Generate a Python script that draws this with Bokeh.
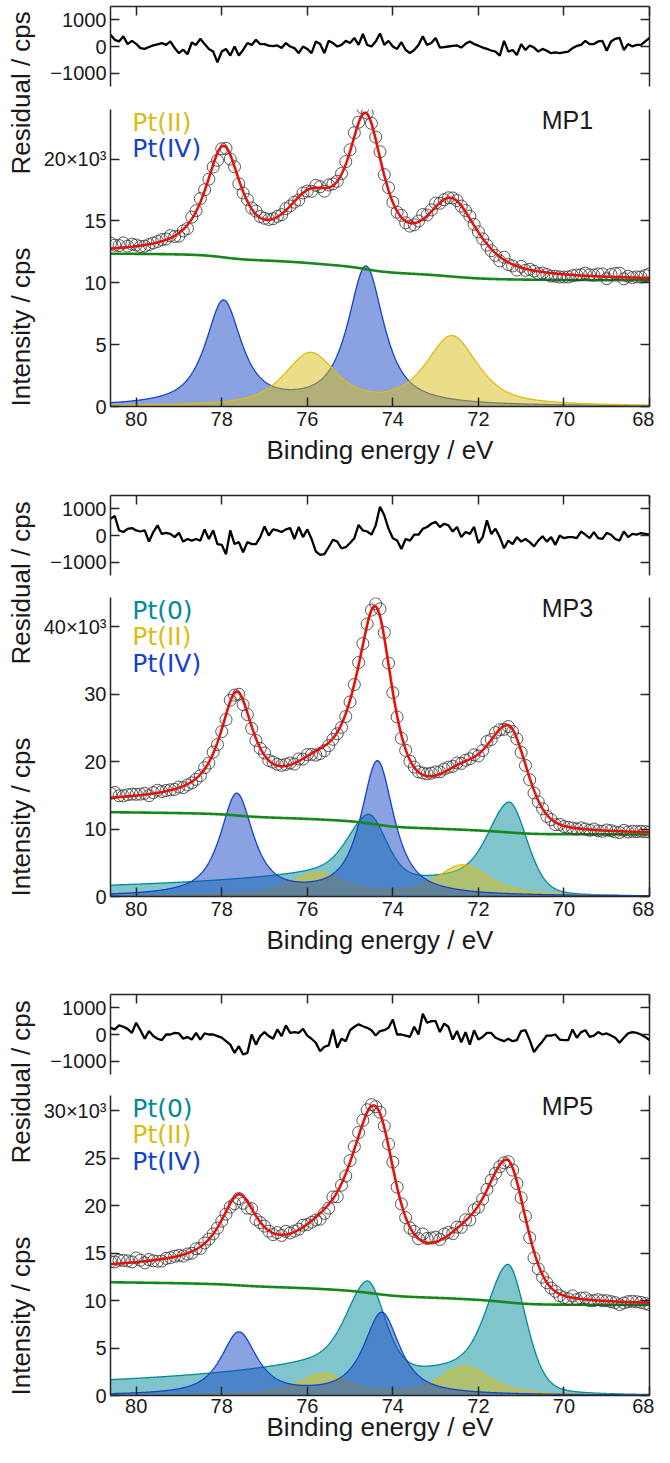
import numpy as np
from bokeh.plotting import figure
from bokeh.layouts import column, row
from bokeh.models import Range1d, FixedTicker, LinearAxis, Label
from bokeh.embed import file_html
from bokeh.resources import INLINE

# ---------------- data ----------------
ENERGY_HIGH, ENERGY_LOW, ENERGY_STEP, N_POINTS = 80.6, 68.0, 0.1, 127
X_TICKS = [80, 78, 76, 74, 72, 70, 68]
RES_TICKS = [-1000, 0, 1000]
RES_TICK_LABELS = ["\u22121000", "0", "1000"]

# residuals (cps), one value per measured point from 80.6 eV down to 68.0 eV
MP1_RESIDUAL = [440,250,190,380,90,210,100,-60,-90,-20,
 40,80,130,60,190,-60,-250,-120,-290,150,
 60,290,90,-90,-190,-590,-190,-90,-340,0,
 -340,-130,130,60,250,90,90,30,10,40,
 -60,130,0,-60,-250,0,-90,-250,190,90,
 -250,210,130,0,60,210,130,320,60,470,
 60,0,190,490,60,210,0,-90,160,-130,
 -250,-130,60,380,60,130,320,-40,-20,0,
 20,40,-40,100,190,90,30,-40,-90,-150,
 -190,-340,210,-190,-130,-320,90,-130,40,-40,
 -190,-90,-160,-250,-220,-250,-220,-190,-60,20,
 60,210,90,90,190,210,-160,190,290,320,
 -130,90,0,60,60,190,320]
MP3_RESIDUAL = [630,730,190,130,250,280,190,150,190,-230,
 130,380,60,100,60,-60,100,-230,-130,-190,
 -130,-190,230,-130,190,-320,-350,-700,190,-320,
 -250,-630,-250,-320,-320,-60,340,0,230,190,
 130,230,280,-130,320,-60,230,-130,-600,-730,
 -700,-440,-160,-230,-480,-440,-280,-100,400,190,
 150,30,380,1080,760,250,-100,-190,-510,-130,
 -190,30,30,250,320,440,510,320,440,380,
 150,320,-60,130,60,320,-280,-60,570,60,
 250,-60,-480,-190,-320,-60,-230,-130,-250,-410,
 -190,-30,-230,-60,-350,0,-100,-60,-60,-100,
 150,30,-100,130,-100,-130,100,30,-130,-190,
 150,-60,60,30,90,60,30]
MP5_RESIDUAL = [250,190,340,290,210,60,440,160,-160,130,
 -60,-160,-210,0,0,60,40,-160,-90,-190,
 60,-190,40,0,0,-60,-120,-250,-380,-690,
 -440,-750,-690,0,-380,-60,90,-60,-160,190,
 -60,340,60,90,60,210,-40,-160,-310,-630,
 -460,-410,190,-500,-160,-250,160,290,380,310,
 250,160,-40,130,160,250,560,0,0,-40,
 -90,290,0,780,440,500,500,90,410,290,
 -190,130,-290,90,-380,160,-190,-90,60,60,
 -120,-190,-250,-160,-250,-210,130,160,-210,-660,
 -440,-250,-40,-40,0,-190,-210,-210,190,-120,
 90,160,-90,-40,90,0,40,-40,-120,-310,
 -120,40,90,60,0,-90,-210]

# fitted components: peak positions (eV) and peak heights (cps)
MP1_PT2_CENTER = [75.93, 72.62]; MP1_PT2_HEIGHT = [4200, 5600]; MP1_PT2_HWHM = 0.72
MP1_PT4_CENTER = [77.96, 74.63]; MP1_PT4_HEIGHT = [8400, 11200]; MP1_PT4_HWHM = 0.50
MP1_BACKGROUND = [12350, 10200]   # high-BE end, low-BE end

MP3_PT0_CENTER = [74.58, 71.29]; MP3_PT0_HEIGHT = [10250, 13950]
MP3_PT2_CENTER = [75.77, 72.36]; MP3_PT2_HEIGHT = [3400, 4600]; MP3_PT2_HWHM = 0.74
MP3_PT4_CENTER = [77.65, 74.36]; MP3_PT4_HEIGHT = [15000, 19900]; MP3_PT4_HWHM = 0.46
MP3_BACKGROUND = [12500, 9200]

MP5_PT0_CENTER = [74.61, 71.32]; MP5_PT0_HEIGHT = [10150, 13750]
MP5_PT2_CENTER = [75.62, 72.31]; MP5_PT2_HEIGHT = [2200, 3000]; MP5_PT2_HWHM = 0.70
MP5_PT4_CENTER = [77.60, 74.26]; MP5_PT4_HEIGHT = [6550, 8650]; MP5_PT4_HWHM = 0.50
MP5_BACKGROUND = [11930, 9540]

MP1_Y_TICKS = [0, 5000, 10000, 15000, 20000]; MP1_Y_LABELS = ["0", "5", "10", "15", "20\u00d710\u00b3"]
MP3_Y_TICKS = [0, 10000, 20000, 30000, 40000]; MP3_Y_LABELS = ["0", "10", "20", "30", "40\u00d710\u00b3"]
MP5_Y_TICKS = [0, 5000, 10000, 15000, 20000, 25000, 30000]
MP5_Y_LABELS = ["0", "5", "10", "15", "20", "25", "30\u00d710\u00b3"]

# line-shape parameters
PV_ETA_PT4, PV_ETA_PT2 = 0.85, 0.7
PT0_W_LOW, PT0_W_HIGH, PT0_ETA = 0.50, 0.55, 0.30
PT0_TAIL_K, PT0_TAIL_W, PT0_TAIL_P = 0.31, 4.4, 1.5

# ---------------- styling ----------------
FONT = "Liberation Sans"
LEG_FONT = "DejaVu Sans"
AX_COLOR = "#262626"
TXT_COLOR = "#1a1a1a"
C_PT0, C_PT2, C_PT4 = "#018999", "#d9bd14", "#1543c5"
C_FIT, C_BG = "#e3120b", "#16871a"

LAB_W = 36
FIG_W = 618
BORDER_L, BORDER_R = 74, 5

energy = np.round(ENERGY_HIGH - ENERGY_STEP * np.arange(N_POINTS), 2)
xf = np.linspace(ENERGY_HIGH, ENERGY_LOW, 1261)


def pv(x, c, h, w, eta):
    d2 = ((x - c) / w) ** 2
    return h * (eta / (1.0 + d2) + (1.0 - eta) * np.exp(-np.log(2.0) * d2))


def pt0_peak(x, c, h):
    d = x - c
    lo = pv(x, c, 1.0, PT0_W_LOW, PT0_ETA)
    hi = (1 - PT0_TAIL_K) * pv(x, c, 1.0, PT0_W_HIGH, PT0_ETA) + \
        PT0_TAIL_K * (1 + np.clip(d, 0, None) / PT0_TAIL_W) ** (-PT0_TAIL_P)
    return h * np.where(d <= 0, lo, hi)


def comp_sum(x, kind, centers, heights, hwhm=None):
    out = np.zeros_like(x)
    for c, h in zip(centers, heights):
        if kind == "pt0":
            out += pt0_peak(x, c, h)
        elif kind == "pt2":
            out += pv(x, c, h, hwhm, PV_ETA_PT2)
        else:
            out += pv(x, c, h, hwhm, PV_ETA_PT4)
    return out


def shirley(total, hi, lo):
    cum = np.cumsum(total[::-1])[::-1]
    frac = (cum - cum[-1]) / (cum[0] - cum[-1])
    return lo + (hi - lo) * frac


def style_axis(ax, ticks, labels=None):
    ax.ticker = FixedTicker(ticks=ticks)
    ax.axis_line_color = AX_COLOR
    ax.axis_line_width = 1.5
    ax.major_tick_line_color = AX_COLOR
    ax.major_tick_line_width = 1.5
    ax.major_tick_in = 9
    ax.major_tick_out = 0
    ax.minor_tick_line_color = None
    if labels is None:
        ax.major_label_overrides = {t: "" for t in ticks}
        ax.major_label_text_color = None
        ax.major_label_text_font_size = "1px"
        ax.major_label_standoff = 0
    else:
        ax.major_label_text_font = FONT
        ax.major_label_text_font_size = "20px"
        ax.major_label_text_color = TXT_COLOR
        ax.major_label_standoff = 4
        ax.major_label_overrides = {t: l for t, l in zip(ticks, labels)}


PANELS = [
    dict(name="MP1", ymax=24000, yt=MP1_Y_TICKS, yl=MP1_Y_LABELS, res=MP1_RESIDUAL, bg=MP1_BACKGROUND,
         comps=[("pt4", MP1_PT4_CENTER, MP1_PT4_HEIGHT, MP1_PT4_HWHM, C_PT4),
                ("pt2", MP1_PT2_CENTER, MP1_PT2_HEIGHT, MP1_PT2_HWHM, C_PT2)],
         legend=[("Pt(II)", C_PT2), ("Pt(IV)", C_PT4)],
         geo=(6, 80, 10, 13, 297, 83), xl=(5, 6)),
    dict(name="MP3", ymax=44350, yt=MP3_Y_TICKS, yl=MP3_Y_LABELS, res=MP3_RESIDUAL, bg=MP3_BACKGROUND,
         comps=[("pt0", MP3_PT0_CENTER, MP3_PT0_HEIGHT, None, C_PT0),
                ("pt2", MP3_PT2_CENTER, MP3_PT2_HEIGHT, MP3_PT2_HWHM, C_PT2),
                ("pt4", MP3_PT4_CENTER, MP3_PT4_HEIGHT, MP3_PT4_HWHM, C_PT4)],
         legend=[("Pt(0)", C_PT0), ("Pt(II)", C_PT2), ("Pt(IV)", C_PT4)],
         geo=(6, 80, 10, 12, 299, 92), xl=(5, 6)),
    dict(name="MP5", ymax=31600, yt=MP5_Y_TICKS, yl=MP5_Y_LABELS, res=MP5_RESIDUAL, bg=MP5_BACKGROUND,
         comps=[("pt0", MP5_PT0_CENTER, MP5_PT0_HEIGHT, None, C_PT0),
                ("pt2", MP5_PT2_CENTER, MP5_PT2_HEIGHT, MP5_PT2_HWHM, C_PT2),
                ("pt4", MP5_PT4_CENTER, MP5_PT4_HEIGHT, MP5_PT4_HWHM, C_PT4)],
         legend=[("Pt(0)", C_PT0), ("Pt(II)", C_PT2), ("Pt(IV)", C_PT4)],
         geo=(6, 80, 10, 11, 300, 51), xl=(3, -4)),
]

figs = []
label_marks = []  # (page y of text end, text)
page_y = 8
for P in PANELS:
    rt, rf, rb, mt, mf, mb = P["geo"]
    xr = Range1d(ENERGY_HIGH, ENERGY_LOW)

    # --- residual panel
    r = figure(width=FIG_W, height=rt + rf + rb, x_range=xr, y_range=Range1d(-1500, 1500),
               x_axis_location="above", output_backend="svg", toolbar_location=None,
               min_border_top=rt, min_border_bottom=rb, min_border_left=BORDER_L, min_border_right=BORDER_R)
    r.outline_line_color = None
    r.grid.visible = False
    style_axis(r.xaxis[0], X_TICKS)
    style_axis(r.yaxis[0], RES_TICKS, RES_TICK_LABELS)
    ra = LinearAxis()
    style_axis(ra, RES_TICKS)
    r.add_layout(ra, "right")
    r.line(energy, P["res"], line_color="black", line_width=2.3)
    figs.append(r)
    page_y += rt + rf + rb

    # --- main panel
    m = figure(width=FIG_W, height=mt + mf + mb, x_range=xr, y_range=Range1d(0, P["ymax"]),
               output_backend="svg", toolbar_location=None,
               min_border_top=mt, min_border_bottom=mb, min_border_left=BORDER_L, min_border_right=BORDER_R)
    m.outline_line_color = None
    m.grid.visible = False
    style_axis(m.xaxis[0], X_TICKS, [str(t) for t in X_TICKS])
    m.xaxis[0].major_label_standoff = P["xl"][0]
    m.xaxis[0].axis_label = "Binding energy / eV"
    m.xaxis[0].axis_label_text_font = FONT
    m.xaxis[0].axis_label_text_font_size = "26px"
    m.xaxis[0].axis_label_text_font_style = "normal"
    m.xaxis[0].axis_label_text_color = TXT_COLOR
    m.xaxis[0].axis_label_standoff = P["xl"][1]
    style_axis(m.yaxis[0], P["yt"], P["yl"])
    ma = LinearAxis()
    style_axis(ma, P["yt"])
    m.add_layout(ma, "right")

    total_f = np.zeros_like(xf)
    total_d = np.zeros_like(energy)
    for kind, cen, hei, w, col in P["comps"]:
        yf = comp_sum(xf, kind, cen, hei, w)
        total_f += yf
        total_d += comp_sum(energy, kind, cen, hei, w)
        m.varea(x=xf, y1=0, y2=yf, fill_color=col, fill_alpha=0.5)
        m.line(xf, yf, line_color=col, line_width=1.3)
    bg_f = shirley(total_f, P["bg"][0], P["bg"][1])
    bg_d = np.interp(energy[::-1], xf[::-1], bg_f[::-1])[::-1]
    fit_f = bg_f + total_f
    data = bg_d + total_d + np.array(P["res"])
    m.line(xf, bg_f, line_color=C_BG, line_width=2.6)
    m.scatter(energy, data, marker="circle", size=12, fill_color=None,
              line_color="#3a3a3a", line_width=1, line_alpha=0.85)
    m.line(xf, fit_f, line_color=C_FIT, line_width=2.6)

    ppu = mf / P["ymax"]
    for i, (txt, col) in enumerate(P["legend"]):
        m.add_layout(Label(x=80.09, y=P["ymax"] - (-2 + 26.5 * i) / ppu, text=txt, text_color=col,
                           text_font=LEG_FONT, text_font_size="25px", text_baseline="top",
                           text_align="left"))
    m.add_layout(Label(x=70.52, y=P["ymax"] + 4 / ppu, text=P["name"], text_color=TXT_COLOR,
                       text_font=FONT, text_font_size="25px", text_baseline="top", text_align="left"))
    figs.append(m)
    main_frame_bottom = page_y + mt + mf
    label_marks.append((main_frame_bottom - 232, "Residual / cps"))
    label_marks.append((main_frame_bottom, "Intensity / cps"))
    page_y += mt + mf + mb

TOTAL_H = page_y - 8
lab = figure(width=LAB_W, height=TOTAL_H, x_range=Range1d(0, LAB_W), y_range=Range1d(0, TOTAL_H),
             x_axis_type=None, y_axis_type=None, output_backend="svg", toolbar_location=None,
             min_border=0)
lab.outline_line_color = None
lab.grid.visible = False
for py, txt in label_marks:
    lab.add_layout(Label(x=20, y=TOTAL_H - (py - 8), text=txt, angle=np.pi / 2, text_align="left",
                         text_baseline="alphabetic", text_font=FONT, text_font_size="26px",
                         text_color=TXT_COLOR))

layout = row(lab, column(*figs))
open("out.html", "w").write(file_html(layout, INLINE))
